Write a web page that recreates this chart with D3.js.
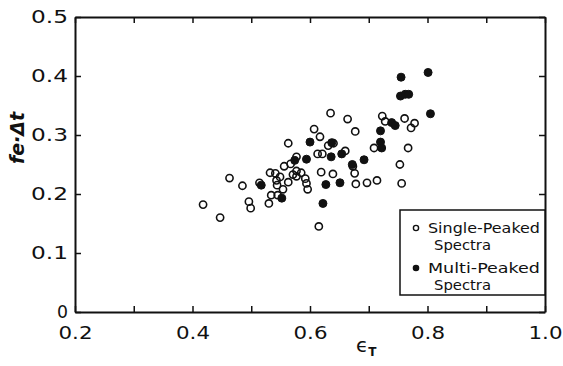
<!DOCTYPE html>
<html>
<head>
<meta charset="utf-8">
<script src="https://cdn.jsdelivr.net/npm/d3@7"></script>
<style>
  body { margin: 0; background: #fff; }
  text { font-family: "DejaVu Sans", sans-serif; fill: #111; }
</style>
</head>
<body>
<svg id="chart" width="563" height="366"></svg>
<script>
// single-peaked spectra (open circles) : [eps_T, fe*dt]
const singlePeaked = [
  [0.418,0.182],[0.447,0.160],[0.463,0.227],[0.485,0.214],[0.496,0.187],[0.499,0.176],
  [0.514,0.219],[0.530,0.184],[0.532,0.236],[0.534,0.198],[0.541,0.235],[0.543,0.223],
  [0.544,0.215],[0.545,0.198],[0.549,0.229],[0.554,0.208],[0.556,0.247],[0.563,0.286],
  [0.563,0.220],[0.567,0.251],[0.571,0.233],[0.577,0.263],[0.577,0.239],[0.577,0.230],
  [0.585,0.236],[0.592,0.226],[0.594,0.218],[0.596,0.208],[0.607,0.310],[0.613,0.268],
  [0.617,0.297],[0.619,0.237],[0.621,0.268],[0.615,0.145],[0.631,0.282],[0.635,0.337],
  [0.640,0.286],[0.639,0.234],[0.660,0.273],[0.664,0.327],[0.673,0.247],[0.676,0.235],
  [0.677,0.306],[0.678,0.217],[0.697,0.219],[0.709,0.278],[0.714,0.223],[0.723,0.332],
  [0.728,0.323],[0.753,0.250],[0.756,0.218],[0.761,0.328],[0.767,0.278],[0.772,0.312],
  [0.778,0.320]
]

// multi-peaked spectra (filled circles)
const multiPeaked = [
  [0.517,0.215],[0.552,0.193],[0.574,0.257],[0.594,0.259],[0.600,0.288],[0.622,0.184],
  [0.627,0.216],[0.636,0.263],[0.637,0.287],[0.651,0.219],[0.654,0.268],[0.692,0.258],
  [0.672,0.250],[0.720,0.307],[0.720,0.288],[0.722,0.278],[0.739,0.321],[0.745,0.316],
  [0.755,0.398],[0.754,0.366],[0.762,0.369],[0.768,0.369],[0.801,0.406],[0.805,0.336]
]

const xTicks = [0.2, 0.3, 0.4, 0.5, 0.6, 0.7, 0.8, 0.9, 1.0]
const xTickLabels = { 0.2: "0.2", 0.4: "0.4", 0.6: "0.6", 0.8: "0.8", 1.0: "1.0" }
const yTicks = [0, 0.1, 0.2, 0.3, 0.4, 0.5]
const yTickLabels = ["0", "0.1", "0.2", "0.3", "0.4", "0.5"]
const legendLabels = [["Single-Peaked", "Spectra"], ["Multi-Peaked", "Spectra"]]

const plotLeft = 75, plotRight = 545, plotTop = 17, plotBottom = 312

const svg = d3.select("#chart")

const x = d3.scaleLinear().domain([0.2, 1.0]).range([plotLeft, plotRight])
const y = d3.scaleLinear().domain([0, 0.5]).range([plotBottom, plotTop])

function xLabel(d) { return xTickLabels[Math.round(d*10)/10] || "" }

// axes, ticks pointing inward on all four sides
const gBottom = svg.append("g")
  .attr("transform", `translate(0,${plotBottom})`)
  .call(d3.axisBottom(x).tickValues(xTicks).tickSizeInner(-6).tickSizeOuter(0).tickPadding(10)
          .tickFormat(xLabel))

const gTop = svg.append("g")
  .attr("transform", `translate(0,${plotTop})`)
  .call(d3.axisTop(x).tickValues(xTicks).tickSizeInner(-6).tickSizeOuter(0).tickFormat(""))

const gLeft = svg.append("g")
  .attr("transform", `translate(${plotLeft},0)`)
  .call(d3.axisLeft(y).tickValues(yTicks).tickSizeInner(-6).tickSizeOuter(0).tickPadding(7)
          .tickFormat((d, i) => yTickLabels[i]))

const gRight = svg.append("g")
  .attr("transform", `translate(${plotRight},0)`)
  .call(d3.axisRight(y).tickValues(yTicks).tickSizeInner(-6).tickSizeOuter(0).tickFormat(""))

svg.selectAll(".domain").attr("stroke", "#111").attr("stroke-width", 2)
svg.selectAll(".tick line").attr("stroke", "#111").attr("stroke-width", 1.5)

gBottom.selectAll("text")
  .attr("font-size", 18).attr("font-family", "DejaVu Sans").attr("fill", "#111")
  .attr("dy", "0.95em")
  .attr("textLength", d => xLabel(d) ? 34 : null)
  .attr("lengthAdjust", "spacingAndGlyphs")

gLeft.selectAll("text")
  .attr("font-size", 18).attr("font-family", "DejaVu Sans").attr("fill", "#111")
  .attr("textLength", (d, i) => yTickLabels[i].length > 1 ? 37 : 11)
  .attr("lengthAdjust", "spacingAndGlyphs")

// axis titles
svg.append("text")
  .attr("transform", "translate(24,138) rotate(-90)")
  .attr("text-anchor", "middle")
  .attr("font-size", 19)
  .attr("font-style", "italic")
  .attr("font-weight", "bold")
  .text("fe·Δt")

const xt = svg.append("text")
  .attr("x", 356).attr("y", 352)
  .attr("font-size", 20)
  .text("ϵ")
xt.append("tspan")
  .attr("font-size", 12).attr("dy", 4).attr("font-weight", "bold")
  .text("T")

// points
svg.append("g").selectAll("circle")
  .data(singlePeaked)
  .join("circle")
  .attr("cx", d => x(d[0]))
  .attr("cy", d => y(d[1]))
  .attr("r", 3.6)
  .attr("fill", "none")
  .attr("stroke", "#111")
  .attr("stroke-width", 1.6)

svg.append("g").selectAll("circle")
  .data(multiPeaked)
  .join("circle")
  .attr("cx", d => x(d[0]))
  .attr("cy", d => y(d[1]))
  .attr("r", 4)
  .attr("fill", "#111")
  .attr("stroke", "#111")
  .attr("stroke-width", 1)

// legend
const legend = svg.append("g")
legend.append("rect")
  .attr("x", 400).attr("y", 210)
  .attr("width", plotRight - 400).attr("height", 85)
  .attr("fill", "#fff")
  .attr("stroke", "#111")
  .attr("stroke-width", 1.5)

legend.selectAll("circle.leg")
  .data(legendLabels)
  .join("circle")
  .attr("class", "leg")
  .attr("cx", 416)
  .attr("cy", (d, i) => 228 + i * 40)
  .attr("r", 2.6)
  .attr("fill", (d, i) => i ? "#111" : "#fff")
  .attr("stroke", "#111")
  .attr("stroke-width", 1.4)

legend.selectAll("text.l1")
  .data(legendLabels)
  .join("text")
  .attr("class", "l1")
  .attr("x", 428)
  .attr("y", (d, i) => 233 + i * 40)
  .attr("font-size", 14)
  .attr("textLength", 112)
  .attr("lengthAdjust", "spacingAndGlyphs")
  .text(d => d[0])

legend.selectAll("text.l2")
  .data(legendLabels)
  .join("text")
  .attr("class", "l2")
  .attr("x", 434)
  .attr("y", (d, i) => 250 + i * 40)
  .attr("font-size", 14)
  .attr("textLength", 57)
  .attr("lengthAdjust", "spacingAndGlyphs")
  .text(d => d[1])
</script>
</body>
</html>
